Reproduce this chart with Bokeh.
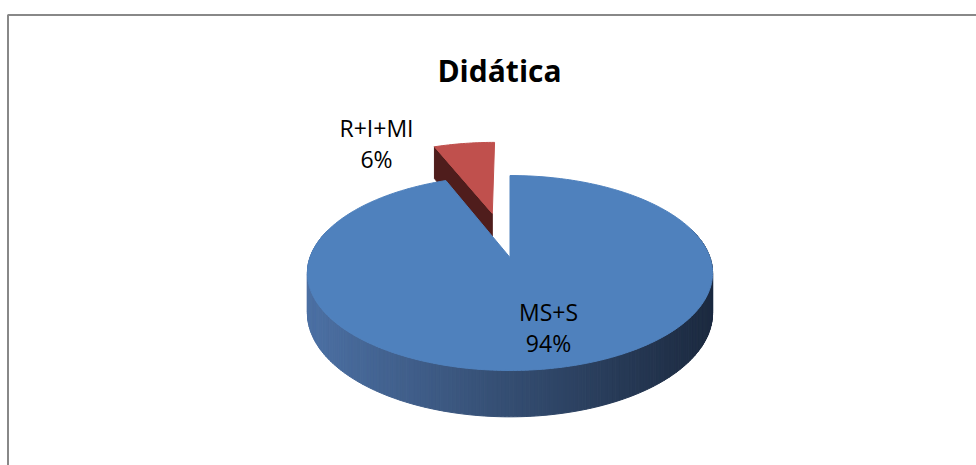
import numpy as np
from bokeh.plotting import figure
from bokeh.models import Range1d, BoxAnnotation, ColumnDataSource
from bokeh.core.properties import value
from bokeh.embed import file_html
from bokeh.resources import INLINE

# ---------------- data ----------------
title_text = "Didática"
categories = ["MS+S", "R+I+MI"]
values = [94, 6]

# ---------------- style / layout ----------------
W, H = 976, 465
CX, CY = 509.5, 257.0      # pie centre (pixels in frame)
R, B, K, D = 200.0, 95.0, 0.159, 39.0   # radius, vertical radius, perspective, depth
EXPLODE = {"R+I+MI": 0.51}
TOP_COLORS = {"MS+S": "#4F81BD", "R+I+MI": "#C0504D"}
FACE_COLORS = {"MS+S": "#24374f", "R+I+MI": "#4f1d1c"}
SIDE_LEFT = {"MS+S": (76, 112, 163), "R+I+MI": (150, 60, 58)}
SIDE_RIGHT = {"MS+S": (28, 42, 64), "R+I+MI": (70, 25, 24)}
LABEL_ANCHORS = {"MS+S": (548, 311), "R+I+MI": (376, 127)}
LINE_GAP = 31
FONT = "Open Sans"


def proj(sx, sz, h=0.0):
    s = 1.0 / (1.0 + K * sz)
    return CX + R * sx * s, CY - B * sz * s + h * s


def side_color(name, x):
    t = float(np.clip((x - (CX - R)) / (2 * R), 0, 1))
    a, b = SIDE_LEFT[name], SIDE_RIGHT[name]
    c = [int(round(a[i] + (b[i] - a[i]) * t)) for i in range(3)]
    return "#%02x%02x%02x" % tuple(c)


p = figure(width=W, height=H, x_range=Range1d(0, W), y_range=Range1d(H, 0),
           output_backend="svg", toolbar_location=None,
           x_axis_location=None, y_axis_location=None, min_border=0,
           outline_line_color=None, background_fill_color="white",
           border_fill_color="white")
p.xgrid.visible = False
p.ygrid.visible = False

# chart area border (right and bottom edges fall outside the window)
p.add_layout(BoxAnnotation(left=7.5, right=W + 20, top=14.5, bottom=H + 20,
                           fill_alpha=0, line_color="#888888", line_alpha=1.0,
                           line_width=2))

vals = np.array(values, dtype=float)
fracs = vals / vals.sum()
ends = np.cumsum(fracs) * 2 * np.pi
starts = ends - fracs * 2 * np.pi

slices = []
for name, t0, t1 in zip(categories, starts, ends):
    mid = 0.5 * (t0 + t1)
    e = EXPLODE.get(name, 0.0)
    slices.append((np.cos(mid), name, t0, t1, e * np.sin(mid), e * np.cos(mid)))
slices.sort(key=lambda s: -s[0])   # back slices first

xs, ys, fills = [], [], []
for _, name, t0, t1, ox, oz in slices:
    n = max(8, int((t1 - t0) / (2 * np.pi) * 360))
    th = np.linspace(t0, t1, n + 1)
    sx = ox + np.sin(th)
    sz = oz + np.cos(th)
    tx, ty = proj(sx, sz, 0.0)
    bx, by = proj(sx, sz, D)
    ax, ay = proj(ox, oz, 0.0)
    axb, ayb = proj(ox, oz, D)

    # outer wall segments, back to front
    segs = []
    for i in range(n):
        zm = 0.5 * (sz[i] + sz[i + 1])
        if zm - oz < 0.3:
            segs.append((zm, i))
    segs.sort(key=lambda s: -s[0])
    for _, i in segs:
        xs.append([tx[i], tx[i + 1], bx[i + 1], bx[i]])
        ys.append([ty[i], ty[i + 1], by[i + 1], by[i]])
        fills.append(side_color(name, 0.5 * (tx[i] + tx[i + 1])))

    # radial faces facing the viewer
    for th_e, sign, idx in ((t0, -1, 0), (t1, 1, n)):
        nz = -sign * np.sin(th_e)
        if nz < -0.05:
            xs.append([ax, tx[idx], bx[idx], axb])
            ys.append([ay, ty[idx], by[idx], ayb])
            fills.append(FACE_COLORS[name])

    # top face
    xs.append([ax] + list(tx))
    ys.append([ay] + list(ty))
    fills.append(TOP_COLORS[name])

src = ColumnDataSource(dict(xs=xs, ys=ys, fill=fills))
p.patches("xs", "ys", source=src, fill_color="fill", line_color="fill", line_width=1)

# title
p.text(x=[499], y=[70], text=[title_text], text_font=value(FONT), text_font_style="bold",
       text_font_size="30px", text_align="center", text_baseline="alphabetic",
       text_color="black")

# data labels
pct = [f"{int(round(f * 100))}%" for f in fracs]
lx = [LABEL_ANCHORS[c][0] for c in categories]
ly = [LABEL_ANCHORS[c][1] for c in categories]
lab = ColumnDataSource(dict(x=lx, y=ly, y2=[v + LINE_GAP for v in ly], name=categories, pct=pct))
p.text(x="x", y="y", text="name", source=lab, text_font=value(FONT), text_font_size="23px",
       text_align="center", text_baseline="alphabetic", text_color="black")
p.text(x="x", y="y2", text="pct", source=lab, text_font=value(FONT), text_font_size="23px",
       text_align="center", text_baseline="alphabetic", text_color="black")

open("out.html", "w").write(file_html(p, INLINE))
